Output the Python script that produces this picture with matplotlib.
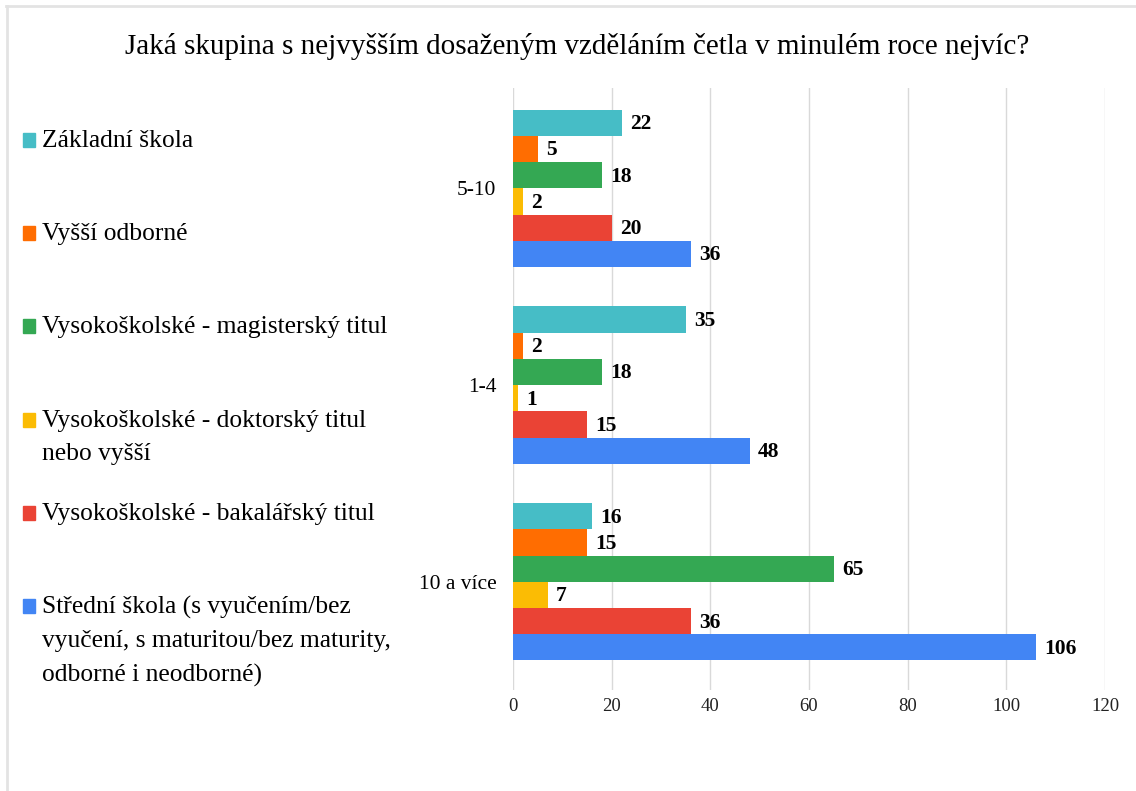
import numpy as np
import matplotlib.pyplot as plt
from matplotlib.lines import Line2D
from matplotlib.patches import Rectangle

plt.rcParams['font.family'] = ['Liberation Serif', 'DejaVu Serif']

# ---- data ----
categories = ['10 a více', '1-4', '5-10']          # bottom -> top
series = [
    'Základní škola',
    'Vyšší odborné',
    'Vysokoškolské - magisterský titul',
    'Vysokoškolské - doktorský titul\nnebo vyšší',
    'Vysokoškolské - bakalářský titul',
    'Střední škola (s vyučením/bez\nvyučení, s maturitou/bez maturity,\nodborné i neodborné)',
]
zakladni = [16, 35, 22]
vyssi_odborne = [15, 2, 5]
magistersky = [65, 18, 18]
doktorsky = [7, 1, 2]
bakalarsky = [36, 15, 20]
stredni = [106, 48, 36]
values = [zakladni, vyssi_odborne, magistersky, doktorsky, bakalarsky, stredni]
colors = ['#46BDC6', '#FF6D01', '#34A853', '#FBBC04', '#EA4335', '#4285F4']
x_ticks = [0, 20, 40, 60, 80, 100, 120]

W, H = 1136, 791
fig = plt.figure(figsize=(W / 100, H / 100), dpi=100)
ax = fig.add_axes([513 / W, 1 - 690 / H, (1105 - 513) / W, (690 - 88) / H])

n = len(series)
bar_h = 0.8 / n
y = np.arange(len(categories))
for i, (vals, col) in enumerate(zip(values, colors)):
    pos = y + 0.4 - bar_h * (i + 0.5)
    bars = ax.barh(pos, vals, height=bar_h, color=col, zorder=3)
    for b, v in zip(bars, vals):
        ax.annotate(str(v), (b.get_width(), b.get_y() + b.get_height() / 2),
                    xytext=(6, -1), textcoords='offset points',
                    ha='left', va='center', fontsize=15.5, fontweight='bold')

ax.set_xlim(0, 120)
ax.set_ylim(-0.55, 2.51)
ax.set_xticks(x_ticks)
ax.set_yticks(y)
ax.set_yticklabels(categories, fontsize=15.5)
ax.tick_params(axis='x', labelsize=13.5, length=0, pad=6, colors='#222222')
ax.tick_params(axis='y', length=0, pad=12)
ax.grid(axis='x', color='#d9d9d9', linewidth=1, zorder=0)
for s in ax.spines.values():
    s.set_visible(False)

fig.text(577 / W, 1 - 46 / H, 'Jaká skupina s nejvyšším dosaženým vzděláním četla v minulém roce nejvíc?',
         ha='center', va='center', fontsize=21)

# legend on the left
for i, (lab, col) in enumerate(zip(series, colors)):
    ytop = 140 + i * 93.2
    fig.patches.append(Rectangle((23 / W, 1 - (ytop + 7) / H), 12 / W, 14 / H,
                                 transform=fig.transFigure, color=col))
    fig.text(42 / W, 1 - (ytop - 10) / H, lab, ha='left', va='top',
             fontsize=18.4, linespacing=1.67)

# light frame lines
fig.lines.append(Line2D([6 / W, 1], [1 - 6 / H, 1 - 6 / H], transform=fig.transFigure,
                        color='#e3e3e3', linewidth=2))
fig.lines.append(Line2D([7 / W, 7 / W], [0, 1 - 6 / H], transform=fig.transFigure,
                        color='#e3e3e3', linewidth=2))

fig.savefig('out.png', dpi=100)
